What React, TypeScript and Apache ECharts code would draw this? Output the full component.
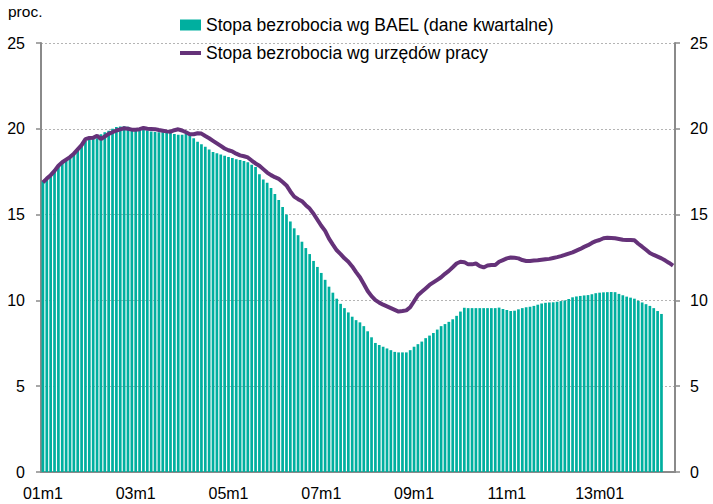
import React, { useEffect, useRef } from "react";
import * as echarts from "echarts";

const startYear = 2001;
const monthCount = 164;
const categories: string[] = [];
for (let k = 0; k < monthCount; k++) {
  const y = startYear + Math.floor(k / 12);
  const m = (k % 12) + 1;
  categories.push(`${String(y).slice(2)}m${m}`);
}

const tickLabels = ["01m1", "03m1", "05m1", "07m1", "09m1", "11m1", "13m01"];
const yTicks = [0, 5, 10, 15, 20, 25];

const baelName = "Stopa bezrobocia wg BAEL (dane kwartalne)";
const registeredName = "Stopa bezrobocia wg urzędów pracy";

const baelRate = [
  16.95, 17.15, 17.35, 17.6, 17.85, 18.05, 18.2, 18.37, 18.6, 18.85, 19.1, 19.3,
  19.38, 19.4, 19.45, 19.68, 19.8, 19.88, 20.0, 20.1, 20.14, 20.15, 20.12, 20.05,
  20.0, 19.97, 19.95, 19.9, 19.84, 19.82, 19.8, 19.8, 19.78, 19.75, 19.7, 19.65,
  19.66, 19.7, 19.72, 19.45, 19.25, 19.1, 18.95, 18.8, 18.65, 18.57, 18.5, 18.43,
  18.36, 18.3, 18.22, 18.18, 18.12, 18.05, 17.9, 17.78, 17.35, 17.05, 16.85, 16.55,
  16.2, 15.85, 15.45, 15.0, 14.6, 14.2, 13.8, 13.42, 13.05, 12.7, 12.3, 11.95,
  11.6, 11.2, 10.8, 10.45, 10.1, 9.8, 9.55, 9.3, 9.05, 8.85, 8.72, 8.5,
  8.2, 7.85, 7.52, 7.4, 7.3, 7.2, 7.1, 7.0, 6.97, 6.97, 6.97, 7.1,
  7.3, 7.45, 7.6, 7.8, 7.95, 8.1, 8.3, 8.5, 8.62, 8.75, 8.9, 9.1,
  9.35, 9.57, 9.55, 9.55, 9.55, 9.55, 9.55, 9.55, 9.55, 9.55, 9.58, 9.5,
  9.44, 9.38, 9.4, 9.48, 9.55, 9.6, 9.63, 9.68, 9.75, 9.82, 9.86, 9.88,
  9.89, 9.92, 9.96, 10.0, 10.08, 10.18, 10.23, 10.26, 10.29, 10.31, 10.36, 10.42,
  10.45, 10.47, 10.48, 10.49, 10.48, 10.38, 10.3, 10.22, 10.16, 10.1, 9.98, 9.88,
  9.78, 9.68, 9.55, 9.38, 9.21,
];

const registeredRate = [
  16.88, 17.1, 17.3, 17.55, 17.85, 18.05, 18.2, 18.35, 18.55, 18.8, 19.05, 19.4,
  19.47, 19.48, 19.6, 19.4, 19.55, 19.7, 19.8, 19.9, 19.97, 20.03, 20.0, 19.95,
  19.95, 19.98, 20.05, 20.0, 19.99, 19.98, 19.93, 19.89, 19.85, 19.83, 19.92, 19.97,
  19.9, 19.8, 19.68, 19.68, 19.74, 19.72, 19.58, 19.45, 19.3, 19.15, 19.0, 18.85,
  18.75, 18.68, 18.55, 18.45, 18.4, 18.33, 18.15, 17.98, 17.85, 17.65, 17.45, 17.3,
  17.18, 17.08, 16.9, 16.7, 16.35, 16.05, 15.9, 15.78, 15.55, 15.35, 15.05, 14.7,
  14.35, 14.05, 13.6, 13.25, 12.92, 12.7, 12.45, 12.25, 11.98, 11.65, 11.35, 10.95,
  10.55, 10.25, 10.02, 9.87, 9.75, 9.65, 9.55, 9.45, 9.35, 9.38, 9.42, 9.6,
  9.95, 10.3, 10.5, 10.7, 10.9, 11.05, 11.2, 11.35, 11.55, 11.72, 11.93, 12.15,
  12.25, 12.23, 12.1, 12.1, 12.15, 12.0, 11.92, 12.03, 12.06, 12.06, 12.25, 12.35,
  12.45, 12.5, 12.48, 12.45, 12.35, 12.3, 12.3, 12.32, 12.34, 12.37, 12.4, 12.42,
  12.47, 12.52, 12.58, 12.65, 12.73, 12.8, 12.9, 13.0, 13.12, 13.22, 13.35, 13.45,
  13.52, 13.62, 13.65, 13.64, 13.62, 13.58, 13.53, 13.52, 13.52, 13.5, 13.3, 13.13,
  12.95, 12.76, 12.65, 12.55, 12.45, 12.32, 12.18, 12.02,
];

const FONT = "'Liberation Sans', Arial, Helvetica, sans-serif";
const AXIS_GREY = "#8a8a8a";
const BAR_COLOR = "#00AF9F";
const LINE_COLOR = "#653279";
const LEGEND_FONT = 17.5;

export default function App() {
  const ref = useRef<HTMLDivElement>(null);
  useEffect(() => {
    if (!ref.current) return;
    const chart = echarts.init(ref.current, undefined, { renderer: "svg" });
    const yAxisBase = {
      type: "value",
      min: yTicks[0],
      max: yTicks[yTicks.length - 1],
      interval: 5,
      axisLine: { show: true, lineStyle: { color: AXIS_GREY, width: 2 } },
      axisTick: { show: true, length: 5, lineStyle: { color: AXIS_GREY, width: 1.5 } },
    };
    const legendText = {
      fontSize: LEGEND_FONT,
      color: "#000",
      fontFamily: FONT,
      lineHeight: 18,
    };
    chart.setOption({
      animation: false,
      textStyle: { fontFamily: FONT },
      grid: { left: 41, right: 38, top: 43, bottom: 32, containLabel: false },
      graphic: [
        {
          type: "text",
          left: 8,
          top: 3,
          style: { text: "proc.", font: `15.5px ${FONT}`, fill: "#000" },
        },
      ],
      legend: [
        {
          orient: "vertical",
          left: 175,
          top: 11,
          itemWidth: 21,
          itemHeight: 11,
          textStyle: legendText,
          data: [{ name: baelName, icon: "rect" }],
        },
        {
          orient: "vertical",
          left: 175,
          top: 39,
          itemWidth: 21,
          itemHeight: 4,
          textStyle: legendText,
          data: [{ name: registeredName, icon: "rect" }],
        },
      ],
      xAxis: {
        type: "category",
        data: categories,
        boundaryGap: true,
        axisLine: { lineStyle: { color: AXIS_GREY, width: 2 } },
        axisTick: { interval: 23, length: 5, lineStyle: { color: AXIS_GREY, width: 1.5 } },
        axisLabel: {
          interval: 23,
          margin: 13,
          fontSize: 16,
          color: "#000",
          fontFamily: FONT,
          formatter: (_v: string, idx: number) => tickLabels[Math.round(idx / 24)] ?? "",
        },
        splitLine: { show: false },
      },
      yAxis: [
        {
          ...yAxisBase,
          position: "left",
          axisLabel: { margin: 16, fontSize: 16, color: "#000", fontFamily: FONT },
          splitLine: { show: true, lineStyle: { color: "#b4b4b4", type: [2, 2], width: 1 } },
        },
        {
          ...yAxisBase,
          position: "right",
          axisLabel: { margin: 15, fontSize: 16, color: "#000", fontFamily: FONT },
          splitLine: { show: false },
        },
      ],
      series: [
        {
          name: baelName,
          type: "bar",
          data: baelRate,
          barWidth: "70%",
          itemStyle: { color: BAR_COLOR },
          z: 2,
        },
        {
          name: registeredName,
          type: "line",
          data: registeredRate,
          symbol: "none",
          lineStyle: { color: LINE_COLOR, width: 4 },
          itemStyle: { color: LINE_COLOR },
          z: 3,
        },
      ],
    });
    return () => chart.dispose();
  }, []);
  return (
    <div
      ref={ref}
      style={{ position: "absolute", left: 0, top: 0, width: 713, height: 504 }}
    />
  );
}
